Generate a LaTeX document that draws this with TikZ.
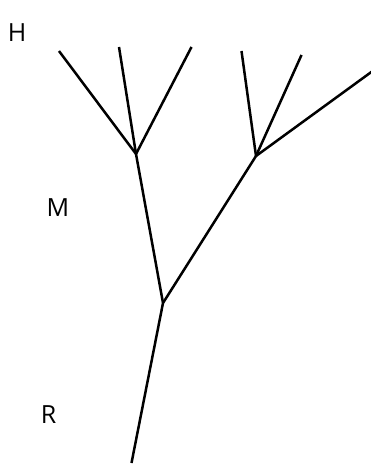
\documentclass[tikz,border=0pt]{standalone}
\usepackage{fontspec}
\setmainfont{Open Sans}
\begin{document}
\begin{tikzpicture}[x=1pt,y=-1pt,
  branch/.style={line width=2.5pt,line cap=butt},
  lab/.style={font=\fontsize{25}{25}\selectfont,inner sep=0pt,anchor=center}]
\useasboundingbox (0,0) rectangle (370,468);
\coordinate (root) at (131.5,463);
\coordinate (r) at (163,303);
\coordinate (m1) at (136,154);
\coordinate (m2) at (256,156);
\coordinate (h1) at (59,51);
\coordinate (h2) at (119,47);
\coordinate (h3) at (191.5,47);
\coordinate (h4) at (241.5,51);
\coordinate (h5) at (301.5,55);
\coordinate (h6) at (372,71.5);
\draw[branch] (root) -- (r);
\draw[branch] (r) -- (m1);
\draw[branch] (r) -- (m2);
\draw[branch] (m1) -- (h1);
\draw[branch] (m1) -- (h2);
\draw[branch] (m1) -- (h3);
\draw[branch] (m2) -- (h4);
\draw[branch] (m2) -- (h5);
\draw[branch] (m2) -- (h6);
\node[lab] (H) at (17,33) {H};
\node[lab] (M) at (58,208) {M};
\node[lab] (R) at (48.5,415) {R};
\end{tikzpicture}
\end{document}
